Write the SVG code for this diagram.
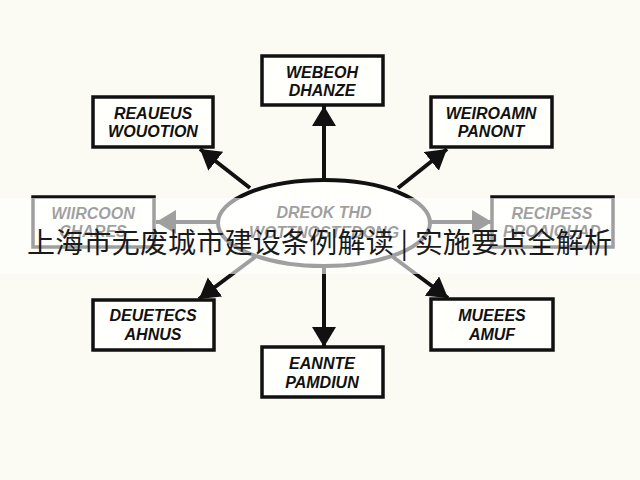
<svg xmlns="http://www.w3.org/2000/svg" width="640" height="480" viewBox="0 0 640 480">
<defs>
<marker id="ah" markerUnits="userSpaceOnUse" markerWidth="24" markerHeight="26" refX="20" refY="12" orient="auto">
<path d="M0,0 L20,12 L0,24 Z" fill="#111"/>
</marker>
<style>
.box{fill:#fffffc;stroke:#111;stroke-width:3.5}
.lbl{font-family:"Liberation Sans","DejaVu Sans",sans-serif;font-weight:bold;font-style:italic;font-size:16px;fill:#111;text-anchor:middle}
.con{stroke:#111;stroke-width:4;fill:none;marker-end:url(#ah)}
.ban{font-family:"Noto Sans CJK SC","Noto Sans",sans-serif;font-size:28px;fill:#1a1a1a}
</style>
</defs>
<rect width="640" height="480" fill="#fbfaf3"/>
<g id="connectors">
<line class="con" x1="324" y1="180" x2="324" y2="106"/>
<line class="con" x1="250" y1="188" x2="200" y2="149"/>
<line class="con" x1="398" y1="188" x2="447" y2="149"/>
<line class="con" x1="218" y1="222" x2="156" y2="222"/>
<line class="con" x1="430" y1="222" x2="492" y2="222"/>
<line class="con" x1="255" y1="257" x2="199" y2="299"/>
<line class="con" x1="393" y1="257" x2="448" y2="298"/>
<line class="con" x1="324" y1="266" x2="324" y2="347"/>
</g>
<g id="center">
<ellipse cx="324" cy="223" rx="106" ry="43" fill="#fffffc" stroke="#111" stroke-width="4"/>
<text class="lbl" x="324" y="218">DREOK THD</text>
<text class="lbl" x="324" y="238">WOTTNOSTEDONG</text>
</g>
<g id="n-top">
<rect class="box" x="262" y="56" width="121" height="49"/>
<text class="lbl" x="322" y="78">WEBEOH</text>
<text class="lbl" x="322" y="96">DHANZE</text>
</g>
<g id="n-topleft">
<rect class="box" x="93" y="97" width="120" height="50"/>
<text class="lbl" x="153" y="119">REAUEUS</text>
<text class="lbl" x="153" y="137">WOUOTION</text>
</g>
<g id="n-topright">
<rect class="box" x="431" y="97" width="121" height="50"/>
<text class="lbl" x="491" y="119">WEIROAMN</text>
<text class="lbl" x="491" y="137">PANONT</text>
</g>
<g id="n-left">
<rect class="box" x="33" y="197" width="121" height="50"/>
<text class="lbl" x="93" y="219">WIIRCOON</text>
<text class="lbl" x="93" y="237">CHARES</text>
</g>
<g id="n-right">
<rect class="box" x="492" y="197" width="121" height="50"/>
<text class="lbl" x="552" y="219">RECIPESS</text>
<text class="lbl" x="552" y="237">PROAIQUAD</text>
</g>
<g id="n-bottomleft">
<rect class="box" x="93" y="300" width="121" height="50"/>
<text class="lbl" x="153" y="321">DEUETECS</text>
<text class="lbl" x="153" y="340">AHNUS</text>
</g>
<g id="n-bottomright">
<rect class="box" x="431" y="299" width="122" height="51"/>
<text class="lbl" x="492" y="321">MUEEES</text>
<text class="lbl" x="492" y="340">AMUF</text>
</g>
<g id="n-bottom">
<rect class="box" x="262" y="347" width="121" height="50"/>
<text class="lbl" x="322" y="369">EANNTE</text>
<text class="lbl" x="322" y="388">PAMDIUN</text>
</g>
<rect id="band" x="0" y="198" width="640" height="76" fill="#ffffff" fill-opacity="0.6"/>
<text class="ban" x="27" y="253" textLength="585" lengthAdjust="spacing">上海市无废城市建设条例解读 | 实施要点全解析</text>
</svg>
